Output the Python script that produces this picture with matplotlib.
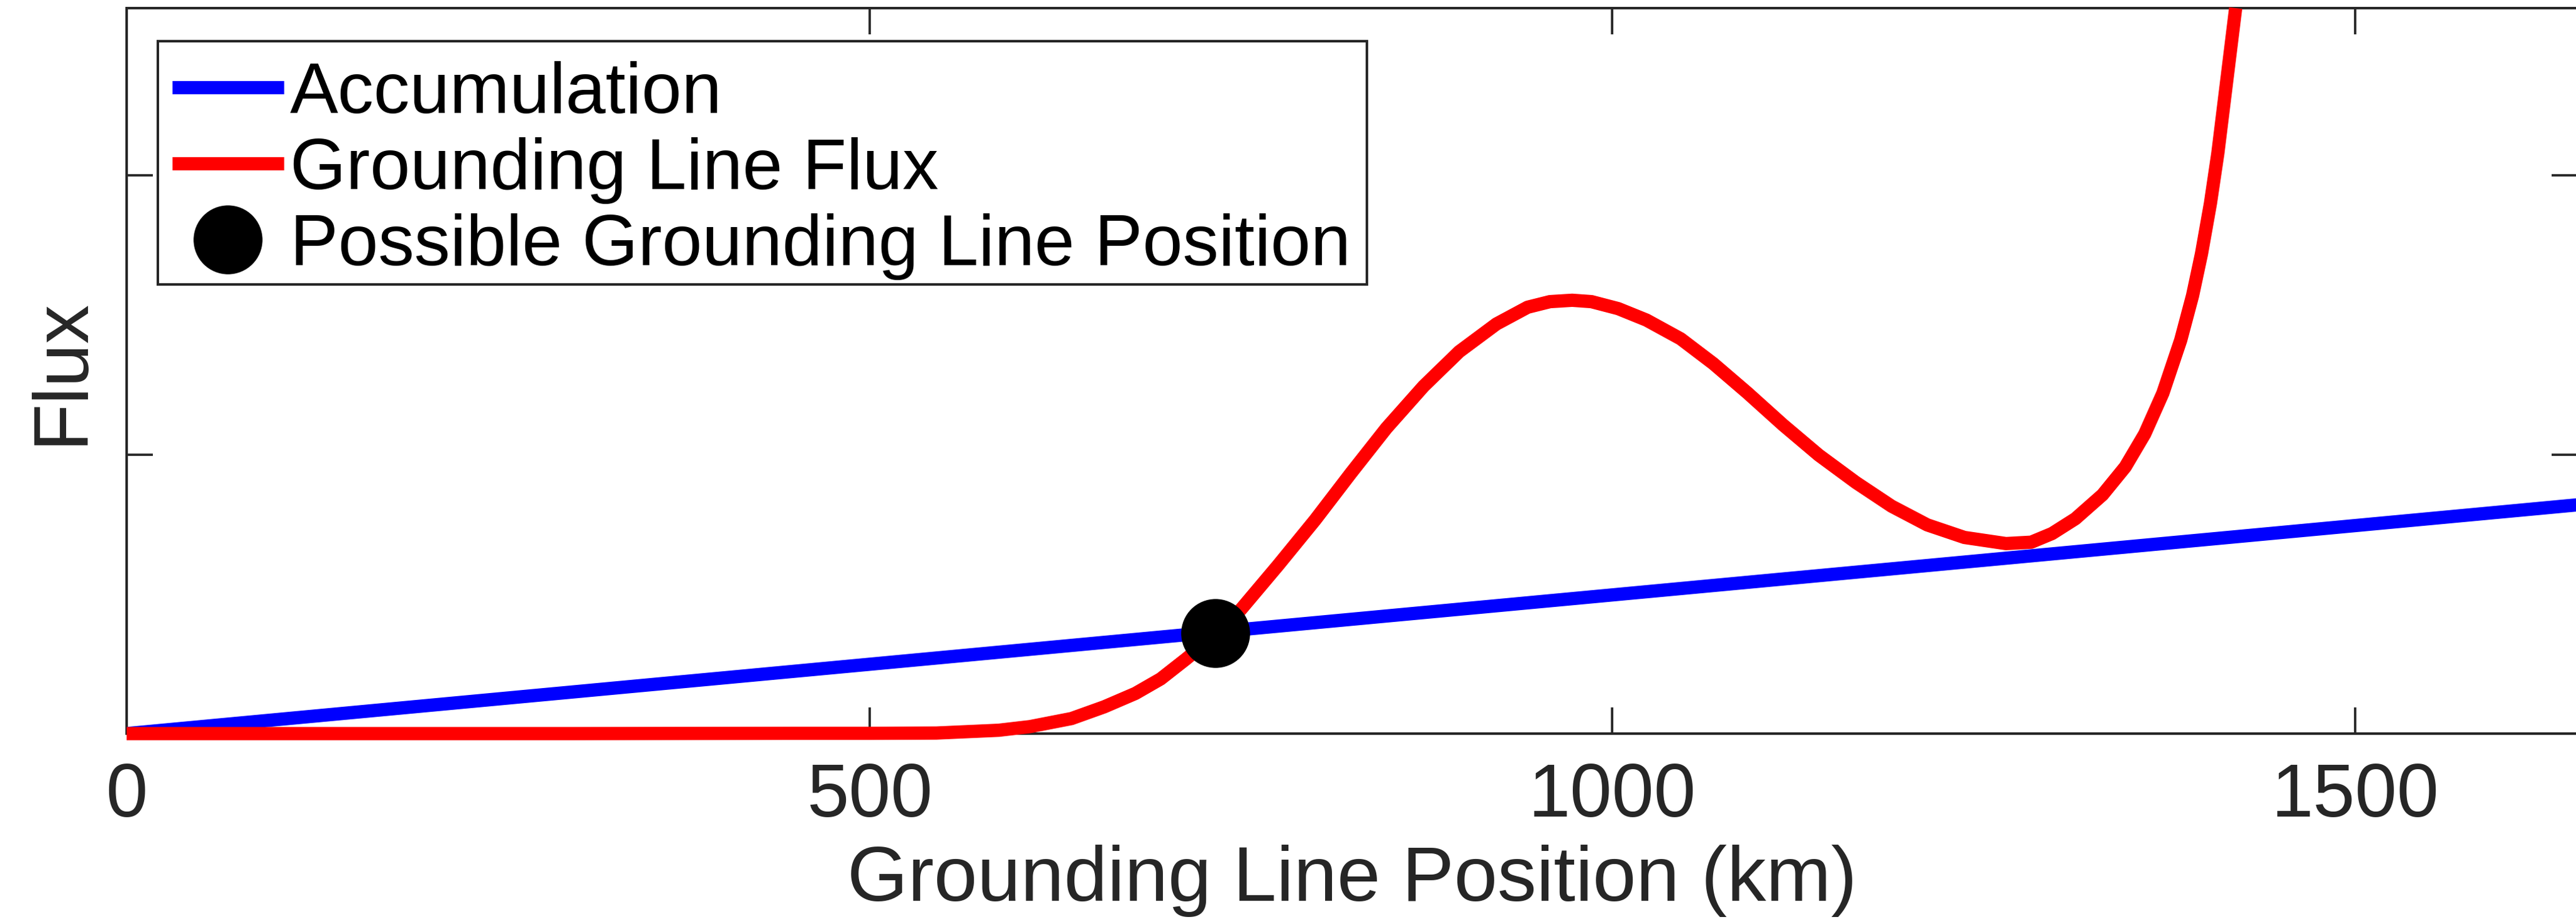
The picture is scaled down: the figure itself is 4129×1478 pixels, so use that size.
import numpy as np
import matplotlib
matplotlib.use('Agg')
import matplotlib.pyplot as plt
from matplotlib.patches import Rectangle

###############################
# Data

# accumulation: straight line
acc_x = [0, 1650]
acc_y = [0, 0.82]

# grounding line flux curve
flux_x = [0, 300, 450, 500, 545, 587, 608, 636, 658, 679, 696, 713, 733, 750,
          775, 800, 824, 848, 873, 897, 922, 943, 958, 973, 986, 1004, 1023,
          1046, 1068, 1091, 1115, 1139, 1164, 1188, 1212, 1237, 1265, 1282,
          1296, 1311.7, 1330, 1345.3, 1358.4, 1370.6, 1382.6, 1390.6, 1396.6,
          1402.6, 1407.6, 1413.6, 1419.6]
flux_y = [0, 0, 0.001, 0.001, 0.002, 0.012, 0.025, 0.054, 0.096, 0.144,
          0.196, 0.267, 0.355, 0.445, 0.603, 0.766, 0.933, 1.095, 1.245,
          1.369, 1.468, 1.528, 1.548, 1.553, 1.548, 1.523, 1.482, 1.415,
          1.326, 1.221, 1.106, 0.998, 0.90, 0.815, 0.748, 0.703, 0.681,
          0.686, 0.717, 0.770, 0.856, 0.956, 1.074, 1.220, 1.41, 1.57,
          1.72, 1.90, 2.08, 2.34, 2.60]

# possible grounding line position
gl_x = [733]
gl_y = [0.36]

x_ticks = [0, 500, 1000, 1500]
y_ticks = [0, 1, 2]

###############################

plt.rcParams['font.family'] = ['Liberation Sans', 'DejaVu Sans']
axcol = '#262626'
W, H, DPI = 4129, 1478, 300

fig = plt.figure(figsize=(W / DPI, H / DPI), dpi=DPI)
ax = fig.add_axes([203 / W, 1 - 1176 / H, 1650 * 2.3813 / W, 1163 / H])

lw = 5.1
ax.plot(acc_x, acc_y, color=(0, 0, 1), lw=lw, zorder=2.9,
        solid_capstyle='butt', label='Accumulation')
ax.plot(flux_x, flux_y, color=(1, 0, 0), lw=lw, zorder=3, clip_on=False,
        solid_capstyle='butt', solid_joinstyle='round', label='Grounding Line Flux')
ax.plot(gl_x, gl_y, 'o', color='k', ms=25.5, zorder=4, clip_on=False,
        label='Possible Grounding Line Position')

ax.set_xlim(0, 1650)
ax.set_ylim(0, 2.6)
ax.set_xticks(x_ticks)
ax.set_yticks(y_ticks)
ax.set_yticklabels([])

ax.tick_params(direction='in', length=10, width=0.9, color=axcol,
               labelsize=29, labelcolor=axcol, top=True, right=True, pad=11)
for side, sp in ax.spines.items():
    sp.set_linewidth(0.96)
    sp.set_color(axcol)
ax.spines['right'].set_visible(False)

ax.set_xlabel('Grounding Line Position (km)', fontsize=30, color=axcol)
ax.set_ylabel('Flux', fontsize=30, color=axcol)
ax.xaxis.set_label_coords(0.5, -0.153)
ax.yaxis.set_label_coords(-0.0115, 0.5)

# legend box drawn separately so its frame matches the reference
box = Rectangle((253 / W, 1 - 456 / H), (2191 - 253) / W, (456 - 66) / H,
                transform=fig.transFigure, facecolor='white', edgecolor=axcol,
                lw=0.96, zorder=4.5, clip_on=False)
ax.add_patch(box)

leg = ax.legend(loc='upper left', bbox_to_anchor=(256 / W, 1 - 78 / H),
                bbox_transform=fig.transFigure, borderaxespad=0,
                fontsize=27.7, frameon=False, borderpad=0.17,
                handlelength=1.55, handletextpad=0.09, labelspacing=0.13)
leg.set_zorder(5)

fig.savefig('out.png', dpi=DPI)
